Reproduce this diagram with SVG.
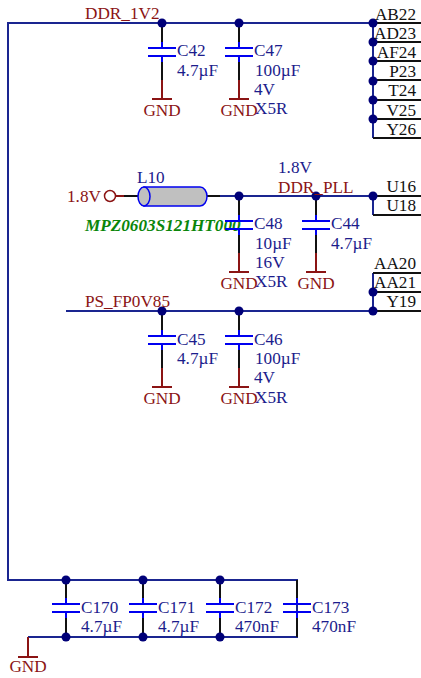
<svg xmlns="http://www.w3.org/2000/svg" width="421" height="678" viewBox="0 0 421 678">
<style>
text{font-family:"Liberation Serif","Times New Roman",serif;font-size:17.2px}
.net{fill:#8b1414}.val{fill:#1c1c8c}.pin{fill:#111;text-anchor:end}
.gt{fill:#8b1414;text-anchor:middle}
.w{fill:none;stroke:#1a2590;stroke-width:2}
.k{fill:none;stroke:#111;stroke-width:2}
.r{fill:none;stroke:#8b1414;stroke-width:2}
.b{fill:none;stroke:#0000f0;stroke-width:2}
.d{fill:#000078}
</style>
<defs>
<g id="cap"><path class="k" d="M0-19V-6M0 14V19"/><path class="b" d="M0-6V0M-14 0H14M-14 8H14M0 8V14"/></g>
<g id="gnd"><path class="r" d="M0 0V19M-10 19H10"/><text class="gt" y="35.500">GND</text></g>
<circle id="dot" class="d" r="4.500"/>
</defs>
<g id="connectors">
<path class="w" d="M373 23H8V580H297V637H28"/>
<path class="w" d="M373 23V138"/>
<path class="k" d="M373 23H421M373 42H421M373 61H421M373 80H421M373 100H421M373 119H421M373 138H421"/>
<path class="k" d="M124 196H143M207 196H220"/>
<path class="r" d="M116 196H124"/>
<path class="w" d="M220 196H373V215"/>
<path class="k" d="M373 196H421M373 215H421"/>
<path class="w" d="M373 273V311M66 311H373"/>
<path class="k" d="M373 273H421M373 292H421M373 311H421"/>
<path class="k" d="M162 23V42M239 23V42M162 62V80M239 62V80"/>
<path class="k" d="M239 196V215M316 196V215M239 235V253M316 235V253"/>
<path class="k" d="M162 311V330M239 311V330M162 350V368M239 350V368"/>
<path class="k" d="M66 580V598M143 580V598M220 580V598M297 580V598M66 618V637M143 618V637M220 618V637M297 618V637"/>
<path class="r" d="M28 637V657M18 657H38"/>
</g>
<g id="dots">
<use href="#dot" x="162" y="23"/><use href="#dot" x="239" y="23"/><use href="#dot" x="373" y="23"/><use href="#dot" x="373" y="42"/><use href="#dot" x="373" y="61"/><use href="#dot" x="373" y="81"/><use href="#dot" x="373" y="100"/><use href="#dot" x="373" y="119"/>
<use href="#dot" x="239" y="196"/><use href="#dot" x="316" y="196"/><use href="#dot" x="373" y="196"/>
<use href="#dot" x="373" y="292"/><use href="#dot" x="373" y="311"/><use href="#dot" x="162" y="311"/><use href="#dot" x="239" y="311"/>
<use href="#dot" x="66" y="580"/><use href="#dot" x="143" y="580"/><use href="#dot" x="220" y="580"/><use href="#dot" x="66" y="637"/><use href="#dot" x="143" y="637"/><use href="#dot" x="220" y="637"/>
</g>
<g id="net-labels">
<text class="net" x="85" y="19">DDR_1V2</text>
<text class="net" x="278" y="193">DDR_PLL</text>
<text class="val" x="278" y="173">1.8V</text>
<text class="net" x="85" y="307">PS_FP0V85</text>
</g>
<g id="pins">
<text class="pin" x="416" y="19.500">AB22</text><text class="pin" x="416" y="39">AD23</text><text class="pin" x="416" y="58">AF24</text><text class="pin" x="416" y="77">P23</text><text class="pin" x="416" y="96">T24</text><text class="pin" x="416" y="115.500">V25</text><text class="pin" x="416" y="135">Y26</text>
<text class="pin" x="416" y="192">U16</text><text class="pin" x="416" y="211">U18</text>
<text class="pin" x="416" y="269">AA20</text><text class="pin" x="416" y="288">AA21</text><text class="pin" x="416" y="307">Y19</text>
</g>
<g id="L10">
<path d="M144 187H200a7 9.500 0 0 1 0 19H144Z" fill="#c0c0c0" stroke="#0000f0" stroke-width="1.500"/>
<ellipse cx="144" cy="196.500" rx="6" ry="9.500" fill="#c0c0c0" stroke="#0000f0" stroke-width="1.500"/>
<text class="val" x="137" y="183">L10</text>
<text x="85" y="231" fill="#0a860a" font-weight="bold" font-style="italic">MPZ0603S121HT000</text>
</g>
<g id="src">
<circle cx="110" cy="196" r="5.500" fill="none" stroke="#8b1414" stroke-width="1.500"/>
<text class="net" x="67" y="202">1.8V</text>
</g>
<g id="C42"><use href="#cap" x="162" y="48"/><use href="#gnd" x="162" y="80"/><text class="val" x="177" y="56">C42</text><text class="val" x="177" y="76">4.7µF</text></g>
<g id="C47"><use href="#cap" x="239" y="48"/><use href="#gnd" x="239" y="80"/><text class="val" x="254" y="56">C47</text><text class="val" x="255" y="76">100µF</text><text class="val" x="254" y="95">4V</text><text class="val" x="255" y="114">X5R</text></g>
<g id="C48"><use href="#cap" x="239" y="221"/><use href="#gnd" x="239" y="253"/><text class="val" x="254" y="229">C48</text><text class="val" x="255" y="249">10µF</text><text class="val" x="255" y="268">16V</text><text class="val" x="255" y="287">X5R</text></g>
<g id="C44"><use href="#cap" x="316" y="221"/><use href="#gnd" x="316" y="253"/><text class="val" x="331" y="229">C44</text><text class="val" x="331" y="249">4.7µF</text></g>
<g id="C45"><use href="#cap" x="162" y="336"/><use href="#gnd" x="162" y="368"/><text class="val" x="177" y="345">C45</text><text class="val" x="177" y="364">4.7µF</text></g>
<g id="C46"><use href="#cap" x="239" y="336"/><use href="#gnd" x="239" y="368"/><text class="val" x="254" y="345">C46</text><text class="val" x="255" y="364">100µF</text><text class="val" x="254" y="383">4V</text><text class="val" x="255" y="403">X5R</text></g>
<g id="C170"><use href="#cap" x="66" y="604"/><text class="val" x="81" y="613">C170</text><text class="val" x="81" y="632">4.7µF</text></g>
<g id="C171"><use href="#cap" x="143" y="604"/><text class="val" x="158" y="613">C171</text><text class="val" x="158" y="632">4.7µF</text></g>
<g id="C172"><use href="#cap" x="220" y="604"/><text class="val" x="235" y="613">C172</text><text class="val" x="235" y="632">470nF</text></g>
<g id="C173"><use href="#cap" x="297" y="604"/><text class="val" x="312" y="613">C173</text><text class="val" x="312" y="632">470nF</text></g>
<g id="GND-main"><text class="gt" x="28" y="672">GND</text></g>
</svg>
